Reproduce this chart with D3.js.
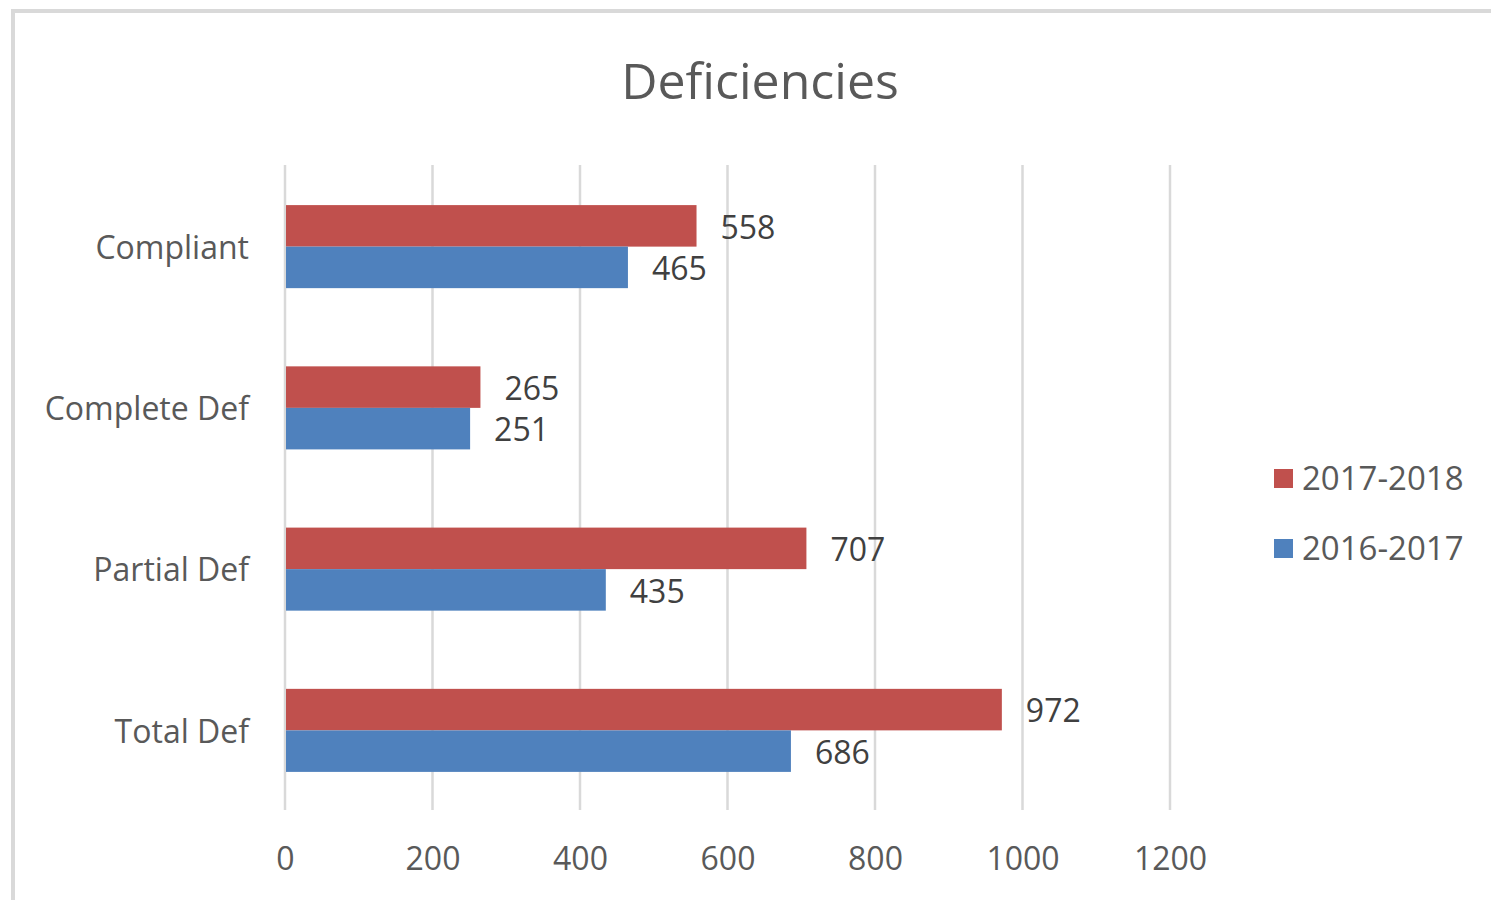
<!DOCTYPE html>
<html>
<head>
<meta charset="utf-8">
<script src="https://cdn.jsdelivr.net/npm/d3@7"></script>
<style>
  html, body { margin: 0; padding: 0; background: #fff; }
  svg { display: block; font-family: "Open Sans", sans-serif; }
</style>
</head>
<body>
<svg id="chart" width="1491" height="900"></svg>
<script>
const categories = ["Compliant", "Complete Def", "Partial Def", "Total Def"];
const seriesNames = ["2017-2018", "2016-2017"];
const values2017_2018 = [558, 265, 707, 972];
const values2016_2017 = [465, 251, 435, 686];
const xTicks = [0, 200, 400, 600, 800, 1000, 1200];
const colors = ["#C0504D", "#4F81BD"];

const seriesValues = [values2017_2018, values2016_2017];
const svg = d3.select("#chart");
const textColor = "#595959";

// border (top and left visible)
svg.append("line").attr("x1", 11).attr("x2", 1491).attr("y1", 11).attr("y2", 11)
  .attr("stroke", "#d9d9d9").attr("stroke-width", 4);
svg.append("line").attr("x1", 13).attr("x2", 13).attr("y1", 9).attr("y2", 900)
  .attr("stroke", "#d9d9d9").attr("stroke-width", 4);

const x = d3.scaleLinear().domain([0, 1200]).range([285, 1170]);
const y = d3.scaleBand().domain(categories).range([166, 811])
  .paddingInner(0.485).paddingOuter(0.2425);
const ySub = d3.scaleBand().domain(seriesNames).range([0, y.bandwidth()]);

// gridlines
svg.append("g").selectAll("line").data(xTicks).join("line")
  .attr("x1", d => x(d)).attr("x2", d => x(d))
  .attr("y1", 165).attr("y2", 810)
  .attr("stroke", "#d9d9d9").attr("stroke-width", 2.5);

// x axis labels
const xAxis = d3.axisBottom(x).tickValues(xTicks).tickSize(0).tickPadding(0).tickFormat(d3.format("d"));
const gx = svg.append("g").attr("transform", "translate(0,843)").call(xAxis);
gx.select(".domain").remove();
gx.selectAll("text").attr("fill", textColor).attr("font-size", 32)
  .attr("font-family", "'Open Sans', sans-serif").attr("dy", "0.85em");

// y axis labels
const yAxis = d3.axisLeft(y).tickSize(0).tickPadding(0);
const gy = svg.append("g").attr("transform", "translate(249,0)").call(yAxis);
gy.select(".domain").remove();
gy.selectAll("text").attr("fill", textColor).attr("font-size", 32)
  .attr("font-family", "'Open Sans', sans-serif").attr("dy", "0.38em");

// bars
const groups = svg.append("g").selectAll("g").data(categories).join("g")
  .attr("transform", d => `translate(0,${y(d)})`);

seriesNames.forEach((s, si) => {
  groups.append("rect")
    .attr("x", x(0) + 1)
    .attr("y", ySub(s))
    .attr("width", (d, i) => x(seriesValues[si][i]) - x(0) - 1)
    .attr("height", ySub.bandwidth())
    .attr("fill", colors[si]);
  groups.append("text")
    .attr("x", (d, i) => x(seriesValues[si][i]) + 24)
    .attr("y", ySub(s) + ySub.bandwidth() / 2)
    .attr("dy", "0.4em")
    .attr("fill", "#404040")
    .attr("font-size", 32)
    .text((d, i) => seriesValues[si][i]);
});

// title
svg.append("text").attr("x", 760).attr("y", 99).attr("text-anchor", "middle")
  .attr("fill", textColor).attr("font-size", 50).text("Deficiencies");

// legend
const legend = svg.append("g").selectAll("g").data(seriesNames).join("g")
  .attr("transform", (d, i) => `translate(1274,${478 + i * 70})`);
legend.append("rect").attr("x", 0).attr("y", -9).attr("width", 19).attr("height", 19)
  .attr("fill", (d, i) => colors[i]);
legend.append("text").attr("x", 28).attr("y", 0).attr("dy", "0.36em")
  .attr("fill", textColor).attr("font-size", 33).text(d => d);
</script>
</body>
</html>
